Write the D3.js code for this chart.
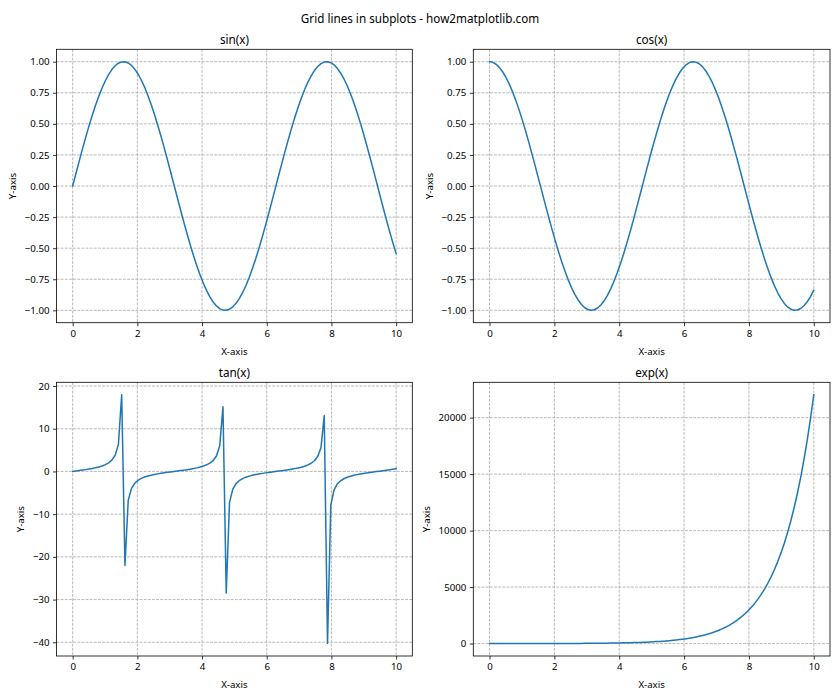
<!DOCTYPE html>
<html>
<head>
<meta charset="utf-8">
<script src="https://cdn.jsdelivr.net/npm/d3@7"></script>
<style>
  html, body { margin: 0; padding: 0; background: #fff; }
  svg { display: block; font-family: "Noto Sans", "Open Sans", sans-serif; }
</style>
</head>
<body>
<svg id="chart"></svg>
<script>
// x samples (100 points, 0 .. 10)
const xs = [0, 0.1010, 0.2020, 0.3030, 0.4040, 0.5051, 0.6061, 0.7071, 0.8081, 0.9091,
  1.0101, 1.1111, 1.2121, 1.3131, 1.4141, 1.5152, 1.6162, 1.7172, 1.8182, 1.9192,
  2.0202, 2.1212, 2.2222, 2.3232, 2.4242, 2.5253, 2.6263, 2.7273, 2.8283, 2.9293,
  3.0303, 3.1313, 3.2323, 3.3333, 3.4343, 3.5354, 3.6364, 3.7374, 3.8384, 3.9394,
  4.0404, 4.1414, 4.2424, 4.3434, 4.4444, 4.5455, 4.6465, 4.7475, 4.8485, 4.9495,
  5.0505, 5.1515, 5.2525, 5.3535, 5.4545, 5.5556, 5.6566, 5.7576, 5.8586, 5.9596,
  6.0606, 6.1616, 6.2626, 6.3636, 6.4646, 6.5657, 6.6667, 6.7677, 6.8687, 6.9697,
  7.0707, 7.1717, 7.2727, 7.3737, 7.4747, 7.5758, 7.6768, 7.7778, 7.8788, 7.9798,
  8.0808, 8.1818, 8.2828, 8.3838, 8.4848, 8.5859, 8.6869, 8.7879, 8.8889, 8.9899,
  9.0909, 9.1919, 9.2929, 9.3939, 9.4949, 9.5960, 9.6970, 9.7980, 9.8990, 10];

const sinValues = [0, 0.1008, 0.2006, 0.2984, 0.3931, 0.4839, 0.5696, 0.6496, 0.7229, 0.7888,
  0.8468, 0.8962, 0.9364, 0.9671, 0.9878, 0.9985, 0.9990, 0.9893, 0.9696, 0.9401,
  0.9010, 0.8528, 0.7958, 0.7307, 0.6581, 0.5787, 0.4934, 0.4030, 0.3086, 0.2110,
  0.1112, 0.0103, -0.0907, -0.1905, -0.2885, -0.3837, -0.4750, -0.5612, -0.6418, -0.7158,
  -0.7825, -0.8414, -0.8915, -0.9328, -0.9643, -0.9863, -0.9978, -0.9994, -0.9907, -0.9718,
  -0.9435, -0.9053, -0.8583, -0.8019, -0.7375, -0.6655, -0.5872, -0.5025, -0.4124, -0.3185,
  -0.2211, -0.1214, -0.0206, 0.0804, 0.1804, 0.2787, 0.3741, 0.4658, 0.5527, 0.6340,
  0.7085, 0.7761, 0.8356, 0.8866, 0.9288, 0.9616, 0.9843, 0.9971, 0.9997, 0.9920,
  0.9743, 0.9466, 0.9094, 0.8631, 0.8081, 0.7448, 0.6731, 0.5954, 0.5117, 0.4220,
  0.3281, 0.2311, 0.1315, 0.0309, -0.0700, -0.1704, -0.2689, -0.3646, -0.4566, -0.5440];

const cosValues = [1, 0.9949, 0.9797, 0.9544, 0.9195, 0.8751, 0.8219, 0.7603, 0.6910, 0.6146,
  0.5320, 0.4440, 0.3512, 0.2547, 0.1558, 0.0556, -0.0454, -0.1458, -0.2447, -0.3409,
  -0.4338, -0.5223, -0.6055, -0.6826, -0.7530, -0.8156, -0.8698, -0.9152, -0.9512, -0.9775,
  -0.9938, -0.9999, -0.9959, -0.9817, -0.9575, -0.9235, -0.8800, -0.8277, -0.7668, -0.6983,
  -0.6229, -0.5406, -0.4535, -0.3614, -0.2662, -0.1661, -0.0659, 0.0351, 0.1357, 0.2349,
  0.3317, 0.4251, 0.5143, 0.5980, 0.6757, 0.7469, 0.8098, 0.8646, 0.9110, 0.9479,
  0.9752, 0.9926, 0.9998, 0.9968, 0.9836, 0.9604, 0.9274, 0.8849, 0.8334, 0.7734,
  0.7057, 0.6305, 0.5493, 0.4623, 0.3705, 0.2744, 0.1766, 0.0761, -0.0248, -0.1256,
  -0.2250, -0.3222, -0.4158, -0.5048, -0.5889, -0.6674, -0.7395, -0.8034, -0.8592, -0.9066,
  -0.9447, -0.9729, -0.9913, -0.9995, -0.9975, -0.9854, -0.9632, -0.9312, -0.8897, -0.8391];

const tanValues = [0, 0.1013, 0.2048, 0.3127, 0.4275, 0.5530, 0.6930, 0.8544, 1.0462, 1.2834,
  1.5917, 2.0185, 2.6663, 3.7970, 6.3402, 17.96, -22.00, -6.785, -3.962, -2.758,
  -2.077, -1.633, -1.314, -1.0705, -0.874, -0.7095, -0.5673, -0.4404, -0.3244, -0.2159,
  -0.1119, -0.0103, 0.0911, 0.1941, 0.3013, 0.4155, 0.5400, 0.6780, 0.8370, 1.0250,
  1.2557, 1.5555, 1.9656, 2.578, 3.621, 5.94, 15.14, -28.47, -7.30, -4.137,
  -2.843, -2.130, -1.668, -1.341, -1.092, -0.891, -0.725, -0.582, -0.4533, -0.3359,
  -0.2275, -0.1221, -0.0206, 0.0807, 0.1835, 0.2902, 0.4034, 0.5267, 0.6632, 0.8197,
  1.0034, 1.2292, 1.5193, 1.9154, 2.5055, 3.503, 5.576, 13.11, -40.3, -7.898,
  -4.330, -2.936, -2.187, -1.711, -1.373, -1.117, -0.912, -0.742, -0.595, -0.466,
  -0.348, -0.238, -0.133, -0.0305, 0.0710, 0.1729, 0.2789, 0.3915, 0.5131, 0.6484];

const expValues = [1, 1.106, 1.224, 1.354, 1.498, 1.657, 1.833, 2.028, 2.244, 2.482,
  2.746, 3.038, 3.361, 3.718, 4.113, 4.551, 5.034, 5.569, 6.161, 6.816,
  7.541, 8.342, 9.229, 10.21, 11.30, 12.50, 13.82, 15.29, 16.92, 18.72,
  20.71, 22.91, 25.34, 28.03, 31.01, 34.31, 37.96, 41.99, 46.46, 51.40,
  56.86, 62.90, 69.59, 76.99, 85.17, 94.23, 104.2, 115.3, 127.6, 141.1,
  156.1, 172.7, 191.1, 211.4, 233.9, 258.7, 286.2, 316.7, 350.3, 387.6,
  428.8, 474.3, 524.8, 580.5, 642.2, 710.5, 786.0, 869.6, 962.0, 1064,
  1177, 1302, 1441, 1594, 1764, 1951, 2159, 2388, 2642, 2923,
  3234, 3577, 3958, 4378, 4844, 5359, 5928, 6559, 7256, 8027,
  8881, 9825, 10869, 12024, 13303, 14717, 16281, 18012, 19927, 22026];

const titles = ['sin(x)', 'cos(x)', 'tan(x)', 'exp(x)'];
const xTicks = [0, 2, 4, 6, 8, 10];
const trigTicks = [-1, -0.75, -0.5, -0.25, 0, 0.25, 0.5, 0.75, 1];
const tanTicks = [-40, -30, -20, -10, 0, 10, 20];
const expTicks = [0, 5000, 10000, 15000, 20000];

const width = 840, height = 700;
const lineColor = '#1f77b4';

const svg = d3.select('#chart')
  .attr('width', width)
  .attr('height', height)
  .attr('viewBox', `0 0 ${width} ${height}`);

svg.append('text')
  .attr('x', width / 2)
  .attr('y', 23)
  .attr('text-anchor', 'middle')
  .attr('font-size', '11.7px')
  .attr('fill', '#000')
  .text('Grid lines in subplots - how2matplotlib.com');

const minus = s => s.replace('-', '\u2212');

// panel frames (left, top, right, bottom) of the 2x2 grid
const cols = [[56.5, 412.3], [473.3, 830]];
const rows = [[49.3, 322.7], [382.3, 656]];

const panels = [
  { values: sinValues, ticks: trigTicks, fmt: d3.format('.2f') },
  { values: cosValues, ticks: trigTicks, fmt: d3.format('.2f') },
  { values: tanValues, ticks: tanTicks, fmt: d3.format('d') },
  { values: expValues, ticks: expTicks, fmt: d3.format('d') },
];

panels.forEach((p, i) => {
  const [left, right] = cols[i % 2];
  const [top, bottom] = rows[Math.floor(i / 2)];

  const xScale = d3.scaleLinear().domain([-0.5, 10.5]).range([left, right]);
  const [ymin, ymax] = d3.extent(p.values);
  const pad = (ymax - ymin) * 0.05;
  const yScale = d3.scaleLinear().domain([ymin - pad, ymax + pad]).range([bottom, top]);

  const g = svg.append('g');

  // Grid
  const grid = g.append('g')
    .attr('stroke', '#a8a8a8')
    .attr('stroke-width', 0.8)
    .attr('stroke-dasharray', '2.9,1.25');
  xTicks.forEach(t => {
    grid.append('line')
      .attr('x1', xScale(t)).attr('x2', xScale(t))
      .attr('y1', top).attr('y2', bottom);
  });
  p.ticks.forEach(t => {
    grid.append('line')
      .attr('x1', left).attr('x2', right)
      .attr('y1', yScale(t)).attr('y2', yScale(t));
  });

  // Line
  const line = d3.line()
    .x((d, j) => xScale(xs[j]))
    .y(d => yScale(d));
  g.append('path')
    .datum(p.values)
    .attr('d', line)
    .attr('fill', 'none')
    .attr('stroke', lineColor)
    .attr('stroke-width', 1.5)
    .attr('stroke-linejoin', 'round')
    .attr('stroke-linecap', 'square');

  // Axes
  const xAxis = g.append('g')
    .attr('transform', `translate(0,${bottom})`)
    .call(d3.axisBottom(xScale).tickValues(xTicks).tickSize(3.5).tickPadding(3.5).tickFormat(d3.format('d')));
  const yAxis = g.append('g')
    .attr('transform', `translate(${left},0)`)
    .call(d3.axisLeft(yScale).tickValues(p.ticks).tickSize(3.5).tickPadding(3.5).tickFormat(d => minus(p.fmt(d))));

  [xAxis, yAxis].forEach(a => {
    a.attr('font-family', null).attr('font-size', null);
    a.select('.domain').remove();
    a.selectAll('line').attr('stroke', '#000').attr('stroke-width', 0.8);
    a.selectAll('text').attr('font-size', '9.7px').attr('fill', '#000');
  });

  // Frame
  g.append('rect')
    .attr('x', left).attr('y', top)
    .attr('width', right - left).attr('height', bottom - top)
    .attr('fill', 'none')
    .attr('stroke', '#000')
    .attr('stroke-width', 0.8);

  // Title
  g.append('text')
    .attr('x', (left + right) / 2)
    .attr('y', top - 5.5)
    .attr('text-anchor', 'middle')
    .attr('font-size', '11.7px')
    .attr('fill', '#000')
    .text(titles[i]);

  // Axis labels
  g.append('text')
    .attr('x', (left + right) / 2)
    .attr('y', bottom + 32)
    .attr('text-anchor', 'middle')
    .attr('font-size', '9.7px')
    .attr('fill', '#000')
    .text('X-axis');

  const tickLeft = yAxis.node().getBBox().x + left;
  const labelX = tickLeft - 8.4;
  const labelY = (top + bottom) / 2;
  g.append('text')
    .attr('transform', `translate(${labelX},${labelY}) rotate(-90)`)
    .attr('text-anchor', 'middle')
    .attr('font-size', '9.7px')
    .attr('fill', '#000')
    .text('Y-axis');
});
</script>
</body>
</html>
